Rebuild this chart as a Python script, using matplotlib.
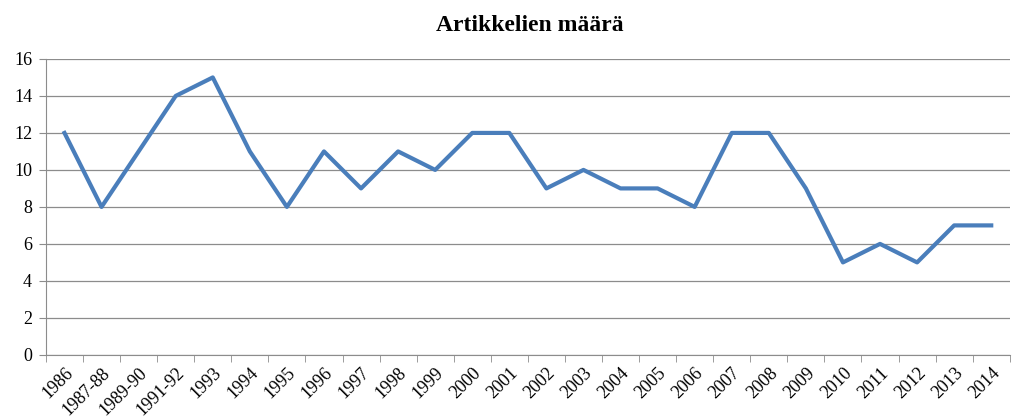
import matplotlib
matplotlib.use("Agg")
import matplotlib.pyplot as plt
import numpy as np

categories = ["1986", "1987-88", "1989-90", "1991-92", "1993", "1994", "1995",
              "1996", "1997", "1998", "1999", "2000", "2001", "2002", "2003",
              "2004", "2005", "2006", "2007", "2008", "2009", "2010", "2011",
              "2012", "2013", "2014"]
counts = [12, 8, 11, 14, 15, 11, 8, 11, 9, 11, 10, 12, 12, 9, 10, 9, 9, 8,
          12, 12, 9, 5, 6, 5, 7, 7]
yticks = [0, 2, 4, 6, 8, 10, 12, 14, 16]

plt.rcParams["font.family"] = ["Liberation Serif", "DejaVu Serif"]

fig = plt.figure(figsize=(10.21, 4.18), dpi=100)
ax = fig.add_axes([0.045, 0.151, 0.944, 0.708])

x = np.arange(len(categories))
ax.plot(x, counts, color="#4A7EBB", linewidth=3.0)

ax.set_xlim(-0.5, len(categories) - 0.5)
ax.set_ylim(0, 16)
ax.set_yticks(yticks)
ax.set_yticklabels([str(v) for v in yticks], fontsize=13)
ax.grid(axis="y", color="#8C8C8C", linewidth=0.9)
ax.set_axisbelow(True)

# category labels centered, tick marks on boundaries
ax.set_xticks(x)
ax.set_xticklabels(categories, rotation=45, ha="right", rotation_mode="anchor",
                   fontsize=13)
ax.tick_params(axis="x", which="major", length=0, pad=7)
ax.set_xticks(np.arange(-0.5, len(categories) + 0.5, 1), minor=True)
ax.tick_params(axis="x", which="minor", length=5, color="#8C8C8C", direction="out")
ax.tick_params(axis="y", length=5, color="#8C8C8C", direction="out", pad=5)

for s in ["top", "right"]:
    ax.spines[s].set_visible(False)
ax.spines["left"].set_color("#8C8C8C")
ax.spines["bottom"].set_color("#8C8C8C")

fig.text(0.519, 0.94, "Artikkelien määrä", ha="center", va="center",
         fontsize=17, fontweight="bold")

fig.savefig("out.png", dpi=100)
